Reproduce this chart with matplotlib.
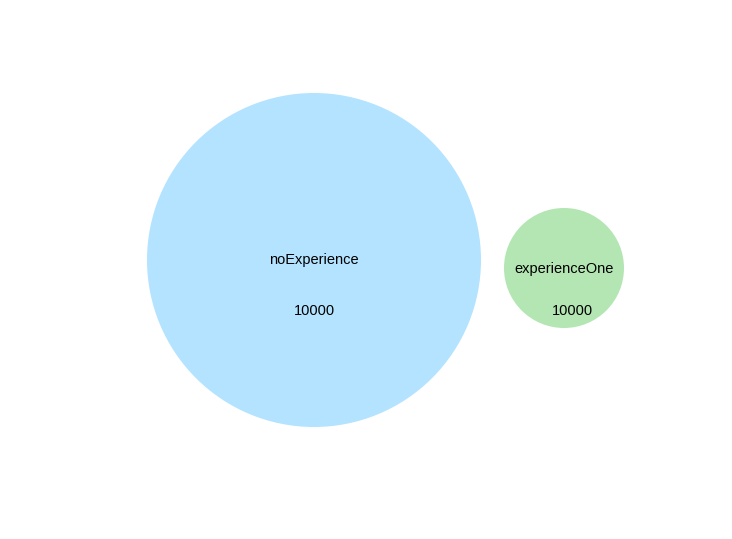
import matplotlib.pyplot as plt
from matplotlib.patches import Circle

names = ['noExperience', 'experienceOne']
counts = [10000, 10000]
centers = [(314, 260), (564, 268)]
radii = [167, 60]
colors = ['#b3e3ff', '#b3e6b3']
name_pos = [(314, 260), (564, 269)]
count_pos = [(314, 311), (572, 311)]

fig = plt.figure(figsize=(7.32, 5.39), dpi=100)
ax = fig.add_axes([0, 0, 1, 1])
ax.set_xlim(0, 732)
ax.set_ylim(539, 0)
ax.set_aspect('equal')
ax.axis('off')

for c, r, col in zip(centers, radii, colors):
    ax.add_patch(Circle(c, r, facecolor=col, edgecolor='none'))

for name, cnt, p1, p2 in zip(names, counts, name_pos, count_pos):
    ax.text(p1[0], p1[1], name, ha='center', va='center', fontsize=10.5, family='Liberation Sans')
    ax.text(p2[0], p2[1], str(cnt), ha='center', va='center', fontsize=10.5, family='Liberation Sans')

fig.savefig('out.png', dpi=100)
